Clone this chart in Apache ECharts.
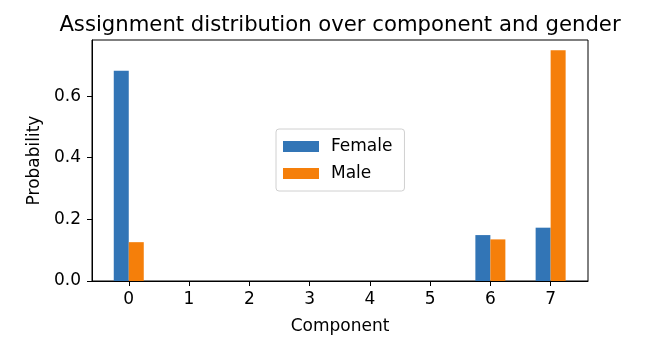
<!DOCTYPE html>
<html>
<head>
<meta charset="utf-8">
<script src="https://cdn.jsdelivr.net/npm/echarts@6/dist/echarts.min.js"></script>
<style>
html,body{margin:0;padding:0;background:#fff;}
#chart{width:667px;height:345px;}
</style>
</head>
<body>
<div id="chart"></div>
<script>
const components = [0, 1, 2, 3, 4, 5, 6, 7];
const female = [0.682, 0, 0, 0, 0, 0, 0.149, 0.173];
const male = [0.126, 0, 0, 0, 0, 0, 0.135, 0.749];
const yTicks = [0, 0.2, 0.4, 0.6];

const FONT = 'DejaVu Sans';
const chart = echarts.init(document.getElementById('chart'), null, {renderer: 'canvas'});
chart.setOption({
  animation: false,
  backgroundColor: '#fff',
  textStyle: {fontFamily: FONT, color: '#000'},
  title: {
    text: 'Assignment distribution over component and gender',
    left: 335, top: 10, textAlign: 'center',
    textStyle: {fontFamily: FONT, fontSize: 21.2, fontWeight: 'normal', color: '#000'}
  },
  legend: {
    orient: 'vertical',
    left: 276, top: 129,
    itemWidth: 36, itemHeight: 11, itemGap: 10,
    padding: [9, 12, 9, 7],
    icon: 'rect',
    borderColor: '#d0d0d0', borderWidth: 1, borderRadius: 3,
    backgroundColor: '#fff',
    textStyle: {fontFamily: FONT, fontSize: 17, color: '#000', padding: [0, 0, 0, 7]},
    data: ['Female', 'Male']
  },
  grid: {
    left: 92, top: 40, width: 496, height: 241,
    show: true, borderColor: '#000', borderWidth: 1, backgroundColor: 'transparent'
  },
  xAxis: {
    type: 'value', min: -0.61, max: 7.62,
    name: 'Component', nameLocation: 'middle', nameGap: 37,
    nameTextStyle: {fontFamily: FONT, fontSize: 17, color: '#000'},
    axisLine: {show: true, onZero: false, lineStyle: {color: '#000', width: 1}},
    axisTick: {show: true, length: 5, customValues: components, lineStyle: {color: '#000'}},
    axisLabel: {customValues: components, margin: 10, fontFamily: FONT, fontSize: 17, color: '#000'},
    splitLine: {show: false}
  },
  yAxis: {
    type: 'value', min: 0, max: 0.782,
    name: 'Probability', nameLocation: 'middle', nameGap: 46, nameRotate: 90,
    nameTextStyle: {fontFamily: FONT, fontSize: 17, color: '#000'},
    axisLine: {show: true, onZero: false, lineStyle: {color: '#000', width: 1}},
    axisTick: {show: true, length: 5, customValues: yTicks, lineStyle: {color: '#000'}},
    axisLabel: {customValues: yTicks, margin: 11, fontFamily: FONT, fontSize: 17, color: '#000',
      formatter: v => Number(v).toFixed(1)},
    splitLine: {show: false}
  },
  series: [
    {name: 'Female', type: 'bar', barWidth: 15, barGap: '0%',
     itemStyle: {color: '#3275b6'},
     data: components.map((c, i) => [c, female[i]])},
    {name: 'Male', type: 'bar', barWidth: 15, barGap: '0%',
     itemStyle: {color: '#f57f0a'},
     data: components.map((c, i) => [c, male[i]])}
  ]
});
</script>
</body>
</html>
